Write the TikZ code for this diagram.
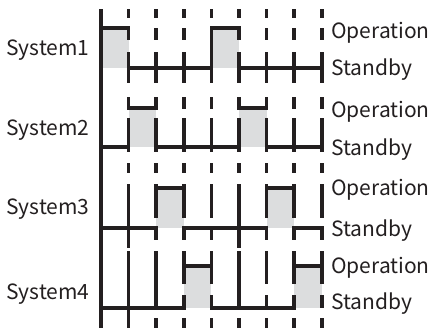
\documentclass[tikz,border=0pt]{standalone}
\usepackage{fontspec}
\setmainfont{Noto Sans CJK SC}
\usepackage{tikz}
\definecolor{ink}{HTML}{231F20}
\definecolor{busygray}{HTML}{DCDDDE}

\begin{document}
\begin{tikzpicture}[
  x=1pt, y=-1pt,
  every node/.style={font=\fontsize{21}{24}\selectfont, inner sep=0pt, text=ink},
  rail/.style={line width=3.8pt, draw=ink},
  tick/.style={line width=3.6pt, draw=ink},
  wave/.style={line width=3.6pt, draw=ink, line cap=rect},
  busy/.style={fill=busygray}
]
\useasboundingbox (0,0) rectangle (431,332);
% grey boxes for the operation slots
\foreach \op/\sb/\i in {28/68/0, 28/68/4, 108/147/1, 108/147/5,
                        188/228/2, 188/228/6, 266/308/3, 266/308/7}
  \fill[busy] ({101+27.6*\i},\op) rectangle ({101+27.6*(\i+1)},\sb);
% time grid
\draw[rail] (101,9) -- (101,328);
\foreach \i in {1,...,8}
  \foreach \a/\b in {9/18,28/40,52/83,97/109,118/152,163/173}
    \draw[tick] ({101+27.6*\i},\a) -- ({101+27.6*\i},\b);
\draw[tick] (211.4,38) -- (211.4,54);
\foreach \i/\segs in {1/{184/248,251/328}, 2/{184/218,229/240,251/308,318/328},
                      3/{184/218,229/240,251/284,295/308,318/328},
                      4/{184/218,229/240,251/284,295/308,318/328},
                      5/{184/248,251/308,318/328},
                      6/{184/218,229/240,251/284,295/308,318/328},
                      7/{184/218,229/240,251/284,295/308,318/328},
                      8/{184/218,229/240,251/284,295/308,318/328}}
  \foreach \a/\b in \segs
    \draw[tick] ({101+27.6*\i},\a) -- ({101+27.6*\i},\b);
% state lines
\draw[wave] (101,28) -- (128.6,28) (128.6,68) -- (211.4,68)
            (211.4,28) -- (239,28) (239,68) -- (321.8,68);
\draw[wave] (101,147) -- (128.6,147) (128.6,108) -- (156.2,108)
            (156.2,147) -- (239,147) (239,108) -- (266.6,108)
            (266.6,147) -- (321.8,147);
\draw[wave] (101,228) -- (156.2,228) (156.2,188) -- (183.8,188)
            (183.8,228) -- (266.6,228) (266.6,188) -- (294.2,188)
            (294.2,228) -- (321.8,228);
\draw[wave] (101,308) -- (183.8,308) (183.8,266) -- (211.4,266)
            (211.4,308) -- (294.2,308) (294.2,266) -- (321.8,266);
% labels
\foreach \k/\y in {1/55, 2/135, 3/214, 4/299}
  \node[anchor=base] (sys\k) at (48,\y) {System\k};
\foreach \k/\yo/\ys in {1/38/75, 2/117/155, 3/195/236, 4/273/309}{
  \node[anchor=base west] (op\k) at (331,\yo) {Operation};
  \node[anchor=base west] (sb\k) at (331,\ys) {Standby};
}
\end{tikzpicture}
\end{document}
